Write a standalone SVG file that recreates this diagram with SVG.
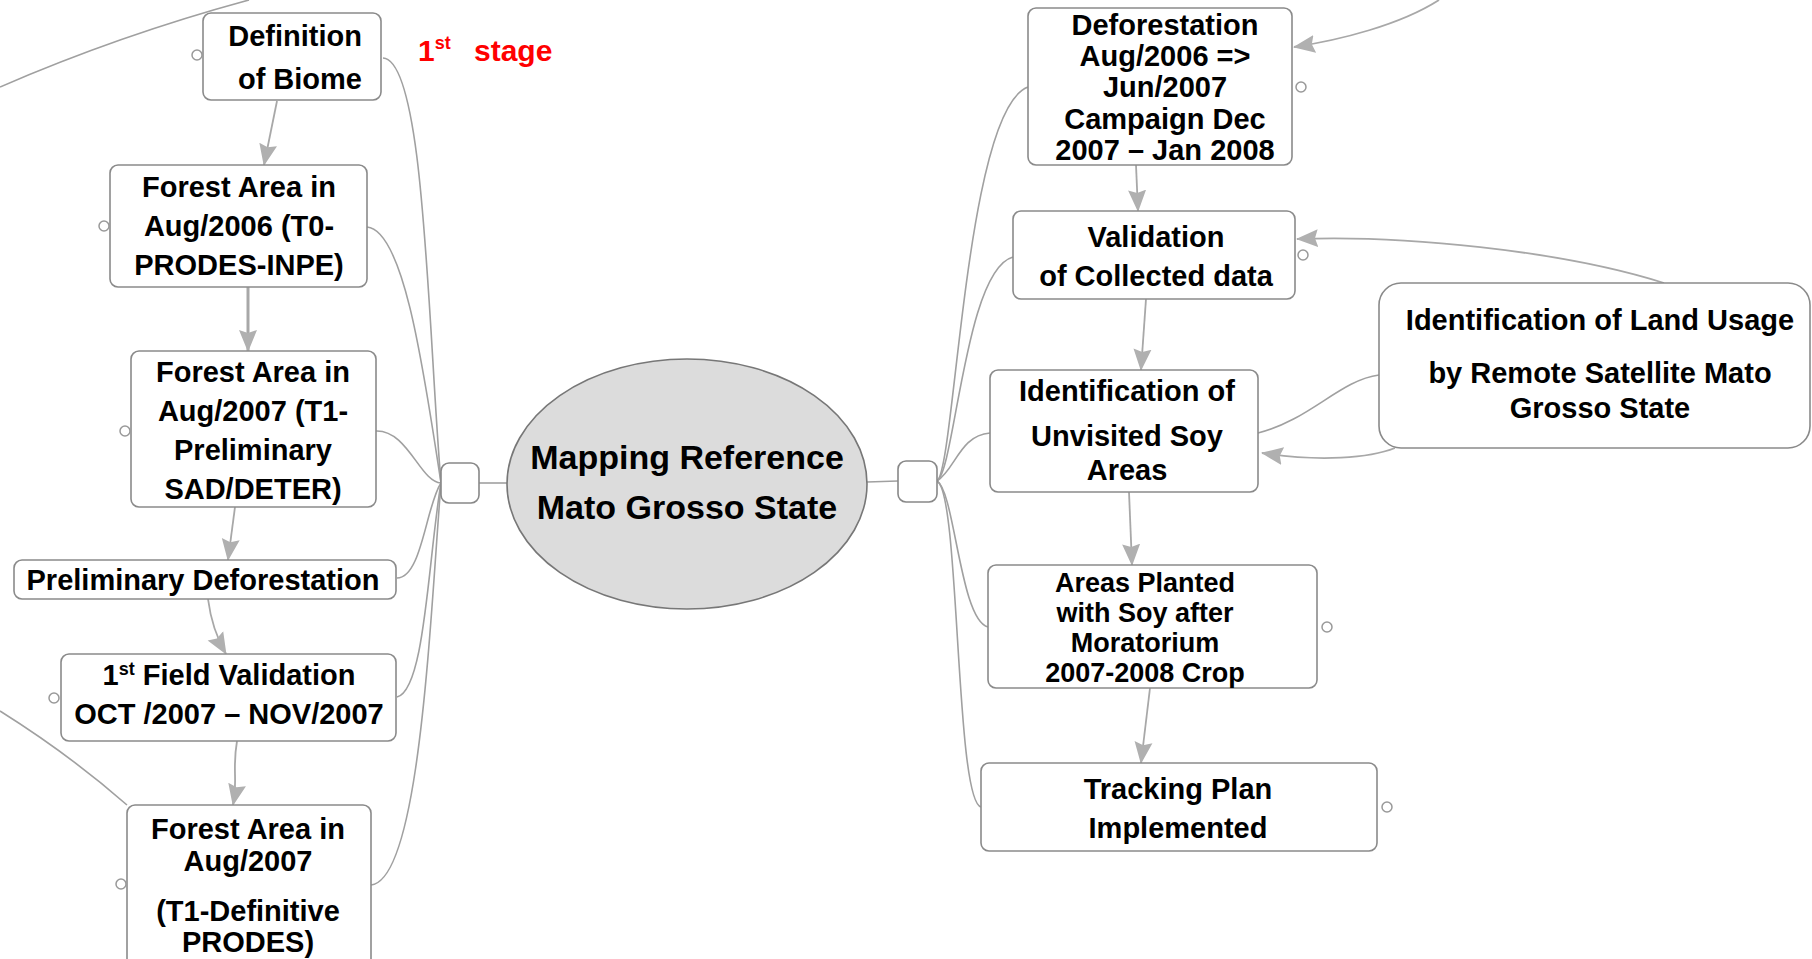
<svg xmlns="http://www.w3.org/2000/svg" width="1812" height="959" viewBox="0 0 1812 959">
<defs>
<style>
.box{fill:#fff;stroke:#8a8a8a;stroke-width:1.6}
.t{font-family:"Liberation Sans",Arial,sans-serif;font-weight:bold;font-size:29px;fill:#000;text-anchor:middle}
.c{fill:none;stroke:#a0a0a0;stroke-width:1.6}
.a{fill:none;stroke:#a8a8a8;stroke-width:1.8;marker-end:url(#ah)}
.k{fill:#fff;stroke:#999;stroke-width:1.5}
.hub{fill:#fff;stroke:#888;stroke-width:1.6}
</style>
<marker id="ah" markerWidth="22" markerHeight="20" refX="21" refY="10" orient="auto" markerUnits="userSpaceOnUse">
<path d="M0,1 L22,10 L0,19 L3,10 Z" fill="#b0b0b0"/>
</marker>
</defs>
<rect width="1812" height="959" fill="#fff"/>
<g id="connectors">
<path class="c" d="M0,87 Q120,35 249,0"/>
<path class="c" d="M0,711 Q70,755 127,805"/>
<path class="c" d="M383,58 C425,60 428,330 441,483"/>
<path class="c" d="M367,227 C405,230 425,380 441,483"/>
<path class="c" d="M376,431 C408,430 420,482 441,483"/>
<path class="c" d="M397,578 C422,578 426,505 441,483"/>
<path class="c" d="M397,697 C425,690 428,560 441,483"/>
<path class="c" d="M371,885 C420,880 430,620 441,483"/>
<path class="c" d="M479,483 L507,483"/>
<path class="c" d="M867,482 L898,481"/>
<path class="c" d="M937,481 C955,470 965,110 1028,87"/>
<path class="c" d="M937,481 C955,470 965,270 1013,257"/>
<path class="c" d="M937,481 C955,470 960,435 990,433"/>
<path class="c" d="M937,481 C955,492 960,620 988,627"/>
<path class="c" d="M937,481 C960,492 955,800 981,807"/>
<path class="a" d="M277,101 L264,165"/>
<path class="a" d="M248,287 L248,351" style="stroke-width:3"/>
<path class="a" d="M235,507 L228,560"/>
<path class="a" d="M208,599 Q212,630 226,654"/>
<path class="a" d="M237,741 C232,770 238,780 233,805"/>
<path class="a" d="M1136,165 L1138,211"/>
<path class="a" d="M1146,299 L1141,370"/>
<path class="a" d="M1129,492 L1132,565"/>
<path class="a" d="M1150,688 L1141,763"/>
<path class="a" d="M1664,283 C1560,250 1400,235 1297,239"/>
<path class="c" d="M1258,433 C1310,420 1340,380 1379,375"/>
<path class="a" d="M1395,448 C1370,458 1320,462 1262,453"/>
<path class="a" d="M1439,0 C1400,25 1340,40 1294,47"/>
</g>
<g id="hub-left"><rect class="hub" x="441" y="463" width="38" height="40" rx="8"/></g>
<g id="hub-right"><rect class="hub" x="898" y="461" width="39" height="41" rx="8"/></g>
<g id="center">
<ellipse cx="687" cy="484" rx="180" ry="125" fill="#dcdcdc" stroke="#777" stroke-width="1.6"/>
<text class="t" x="687" y="469" style="font-size:34px">Mapping Reference</text>
<text class="t" x="687" y="519" style="font-size:34px">Mato Grosso State</text>
</g>
<g id="stage-label">
<text x="418" y="61" style="font-family:'Liberation Sans',Arial,sans-serif;font-weight:bold;font-size:30px;fill:#f00">1<tspan font-size="18" dy="-12">st</tspan><tspan dy="12" x="474">stage</tspan></text>
</g>
<g id="n-definition">
<rect class="box" x="203" y="13" width="178" height="87" rx="8"/>
<circle class="k" cx="197" cy="55" r="5"/>
<text class="t" x="362" y="46" style="text-anchor:end">Definition</text>
<text class="t" x="362" y="89" style="text-anchor:end">of Biome</text>
</g>
<g id="n-forest2006">
<rect class="box" x="110" y="165" width="257" height="122" rx="8"/>
<circle class="k" cx="104" cy="226" r="5"/>
<text class="t" x="239" y="197">Forest Area in</text>
<text class="t" x="239" y="236">Aug/2006 (T0-</text>
<text class="t" x="239" y="275">PRODES-INPE)</text>
</g>
<g id="n-forest2007p">
<rect class="box" x="131" y="351" width="245" height="156" rx="8"/>
<circle class="k" cx="125" cy="431" r="5"/>
<text class="t" x="253" y="382">Forest Area in</text>
<text class="t" x="253" y="421">Aug/2007 (T1-</text>
<text class="t" x="253" y="460">Preliminary</text>
<text class="t" x="253" y="499">SAD/DETER)</text>
</g>
<g id="n-prelimdef">
<rect class="box" x="14" y="560" width="382" height="39" rx="8"/>
<text class="t" x="203" y="590">Preliminary Deforestation</text>
</g>
<g id="n-field1">
<rect class="box" x="61" y="654" width="335" height="87" rx="8"/>
<circle class="k" cx="54" cy="698" r="5"/>
<text class="t" x="229" y="685">1<tspan font-size="18" dy="-10">st</tspan><tspan dy="10"> Field Validation</tspan></text>
<text class="t" x="229" y="724">OCT /2007 – NOV/2007</text>
</g>
<g id="n-forest2007d">
<rect class="box" x="127" y="805" width="244" height="170" rx="8"/>
<circle class="k" cx="121" cy="884" r="5"/>
<text class="t" x="248" y="839">Forest Area in</text>
<text class="t" x="248" y="871">Aug/2007</text>
<text class="t" x="248" y="921">(T1-Definitive</text>
<text class="t" x="248" y="952">PRODES)</text>
</g>
<g id="n-deforestation">
<rect class="box" x="1028" y="8" width="264" height="157" rx="8"/>
<circle class="k" cx="1301" cy="87" r="5"/>
<text class="t" x="1165" y="35">Deforestation</text>
<text class="t" x="1165" y="66">Aug/2006 =&gt;</text>
<text class="t" x="1165" y="97">Jun/2007</text>
<text class="t" x="1165" y="129">Campaign Dec</text>
<text class="t" x="1165" y="160">2007 – Jan 2008</text>
</g>
<g id="n-validation">
<rect class="box" x="1013" y="211" width="282" height="88" rx="8"/>
<circle class="k" cx="1303" cy="255" r="5"/>
<text class="t" x="1156" y="247">Validation</text>
<text class="t" x="1156" y="286">of Collected data</text>
</g>
<g id="n-identification">
<rect class="box" x="990" y="370" width="268" height="122" rx="8"/>
<text class="t" x="1127" y="401">Identification of</text>
<text class="t" x="1127" y="446">Unvisited Soy</text>
<text class="t" x="1127" y="480">Areas</text>
</g>
<g id="n-areas">
<rect class="box" x="988" y="565" width="329" height="123" rx="8"/>
<circle class="k" cx="1327" cy="627" r="5"/>
<text class="t" x="1145" y="592" style="font-size:27px">Areas Planted</text>
<text class="t" x="1145" y="622" style="font-size:27px">with Soy after</text>
<text class="t" x="1145" y="652" style="font-size:27px">Moratorium</text>
<text class="t" x="1145" y="682" style="font-size:27px">2007-2008 Crop</text>
</g>
<g id="n-tracking">
<rect class="box" x="981" y="763" width="396" height="88" rx="8"/>
<circle class="k" cx="1387" cy="807" r="5"/>
<text class="t" x="1178" y="799">Tracking Plan</text>
<text class="t" x="1178" y="838">Implemented</text>
</g>
<g id="n-landusage">
<rect class="box" x="1379" y="283" width="431" height="165" rx="22"/>
<text class="t" x="1600" y="330">Identification of Land Usage</text>
<text class="t" x="1600" y="383">by Remote Satellite Mato</text>
<text class="t" x="1600" y="418">Grosso State</text>
</g>
</svg>
